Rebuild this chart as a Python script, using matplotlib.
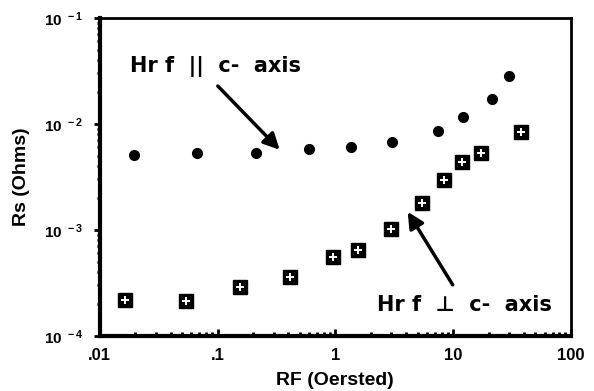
import matplotlib
matplotlib.use('Agg')
import numpy as np
import matplotlib.pyplot as plt

plt.rcParams['font.family'] = ['Liberation Sans', 'DejaVu Sans']
plt.rcParams['font.weight'] = 'bold'
plt.rcParams['mathtext.fontset'] = 'custom'
plt.rcParams['mathtext.rm'] = 'Liberation Sans:bold'
plt.rcParams['mathtext.default'] = 'rm'

# Hrf parallel to c-axis (filled circles)
par_field = [0.0195, 0.0665, 0.211, 0.594, 1.35, 3.01, 7.4, 12.1, 21.3, 29.6]
par_rs = [0.0051, 0.0053, 0.0053, 0.0058, 0.0061, 0.0068, 0.0086, 0.0116, 0.0172, 0.0284]

# Hrf perpendicular to c-axis (squares)
perp_field = [0.0163, 0.0537, 0.154, 0.41, 0.95, 1.55, 2.95, 5.41, 8.3, 11.8, 17.1, 37.5]
perp_rs = [0.000219, 0.000214, 0.00029, 0.00036, 0.000556, 0.000648, 0.00102,
           0.0018, 0.00296, 0.00438, 0.00532, 0.0084]

xticks = [0.01, 0.1, 1, 10, 100]
xticklabels = ['.01', '.1', '1', '10', '100']
yticks = [1e-4, 1e-3, 1e-2, 1e-1]
yticklabels = [r'$10^{\ -4}$', r'$10^{\ -3}$', r'$10^{\ -2}$', r'$10^{\ -1}$']

fig = plt.figure(figsize=(5.94, 3.91), dpi=100)
ax = fig.add_axes([0.168, 0.141, 0.793, 0.813])

ax.plot(par_field, par_rs, 'o', color='black', markersize=7, linestyle='none')
ax.plot(perp_field, perp_rs, 's', color='black', markersize=10, linestyle='none')
ax.plot(perp_field, perp_rs, '+', color='white', markersize=5.5, markeredgewidth=1.4,
        linestyle='none')

ax.set_xscale('log')
ax.set_yscale('log')
ax.set_xlim(0.01, 100)
ax.set_ylim(1e-4, 1e-1)
ax.set_xticks(xticks)
ax.set_xticklabels(xticklabels, fontsize=12, fontweight='bold')
ax.set_yticks(yticks)
ax.set_yticklabels(yticklabels, fontsize=11)

ax.tick_params(axis='x', which='both', direction='in', width=2, pad=9)
ax.tick_params(axis='x', which='major', length=5)
ax.tick_params(axis='x', which='minor', length=3)
ax.tick_params(axis='y', which='both', direction='out', width=2, pad=8)
ax.tick_params(axis='y', which='major', length=4)
ax.tick_params(axis='y', which='minor', length=2.5)

for side in ['left', 'bottom']:
    ax.spines[side].set_linewidth(3)
for side in ['top', 'right']:
    ax.spines[side].set_linewidth(2)

ax.set_xlabel('RF (Oersted)', fontsize=14, fontweight='bold', labelpad=6)
ax.set_ylabel('Rs (Ohms)', fontsize=14, fontweight='bold', labelpad=10)

arrow = dict(arrowstyle='-|>', color='black', lw=2.5, mutation_scale=24,
             shrinkA=0, shrinkB=0)
ax.text(0.018, 0.0345, 'Hr f  ||  c-  axis', fontsize=15, fontweight='bold',
        family=['DejaVu Sans'], ha='left', va='center')
ax.annotate('', xy=(0.337, 0.0057), xytext=(0.1005, 0.0228), arrowprops=arrow)
ax.annotate('', xy=(4.12, 0.00148), xytext=(9.93, 0.000303), arrowprops=arrow)
ax.text(2.24, 0.000196, 'Hr f  \u22a5  c-  axis', fontsize=15, fontweight='bold',
        family=['DejaVu Sans'], ha='left', va='center')

fig.savefig('out.png', dpi=100)
